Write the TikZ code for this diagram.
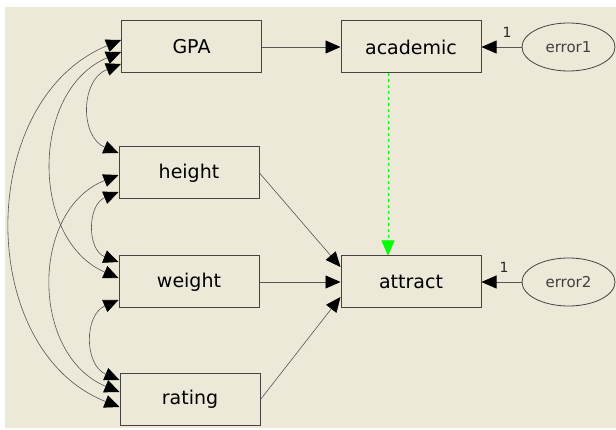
\documentclass[tikz,border=0pt]{standalone}
\usepackage{fontspec}
\setmainfont{DejaVu Sans}
\usetikzlibrary{arrows.meta,calc,shapes.geometric}
\definecolor{bg}{HTML}{ECE9D8}
\definecolor{ln}{HTML}{555555}
\definecolor{grn}{HTML}{00FF00}
\tikzset{
  var/.style={draw=ln!80!black,line width=1pt,fill=bg,minimum width=140pt,minimum height=52pt,inner sep=0pt,font=\fontsize{19}{21}\selectfont},
  err/.style={draw=ln!80!black,line width=0.8pt,ellipse,minimum width=93pt,minimum height=48pt,inner sep=0pt,font=\fontsize{15}{17}\selectfont,text=black!75},
  hd/.tip={Triangle[length=15pt,width=13pt,black]},
  cov/.style={hd-hd,draw=ln,line width=0.6pt},
  path/.style={-hd,draw=ln,line width=0.6pt},
  one/.style={font=\fontsize{14}{16}\selectfont,inner sep=0pt,text=black!85}
}
\begin{document}
\begin{tikzpicture}[x=1pt,y=-1pt]
\useasboundingbox (0,0) rectangle (616,430);
\fill[white] (0,0) rectangle (616,430);
\fill[bg] (5,7) rectangle (616,428);
\node[var] (gpa) at (191.5,47) {GPA};
\node[var] (height) at (189,173) {height};
\node[var] (weight) at (189,282) {weight};
\node[var] (rating) at (190,399.5) {rating};
\node[var] (academic) at (411,47) {academic};
\node[var] (attract) at (411,282) {attract};
\node[err] (e1) at (568.5,47) {error1};
\node[err] (e2) at (568.5,282) {error2};
\node[one] (l1) at (507,32) {1};
\node[one] (l2) at (504,267) {1};
% paths
\draw[path] (gpa.east) -- (academic.west);
\draw[path] (height.east) -- ([yshift=15pt]attract.west);
\draw[path] (weight.east) -- (attract.west);
\draw[path] (rating.east) -- ([yshift=-15pt]attract.west);
\draw[path] (e1.west) -- (academic.east);
\draw[path] (e2.west) -- (attract.east);
\draw[grn,line width=0.6pt,dashed,-{Triangle[length=15pt,width=13pt,grn]}] ([xshift=-23pt]academic.south) -- ([xshift=-23pt]attract.north);
% covariances
\coordinate (g1) at ([yshift=7pt]gpa.west);
\coordinate (g2) at ([yshift=-5pt]gpa.west);
\coordinate (g3) at ([yshift=-17pt]gpa.west);
\coordinate (h1) at ([yshift=20pt]height.west);
\coordinate (h2) at ([yshift=-2pt]height.west);
\coordinate (h3) at ([yshift=-19pt]height.west);
\coordinate (w1) at ([yshift=20pt]weight.west);
\coordinate (w2) at ([yshift=4pt]weight.west);
\coordinate (w3) at ([yshift=-18pt]weight.west);
\coordinate (r1) at ([yshift=19.5pt]rating.west);
\coordinate (r2) at ([yshift=7.5pt]rating.west);
\coordinate (r3) at ([yshift=-7.5pt]rating.west);
\draw[cov] (g3) .. controls (80,80) and (80,137) .. (h1);
\draw[cov] (g2) .. controls (30,90) and (30,240) .. (w2);
\draw[cov] (g1) .. controls (-25,100) and (-25,350) .. (r3);
\draw[cov] (h3) .. controls (87,205) and (87,250) .. (w1);
\draw[cov] (h2) .. controls (30,210) and (30,355) .. (r2);
\draw[cov] (w3) .. controls (84,315) and (84,365) .. (r1);
\end{tikzpicture}
\end{document}
